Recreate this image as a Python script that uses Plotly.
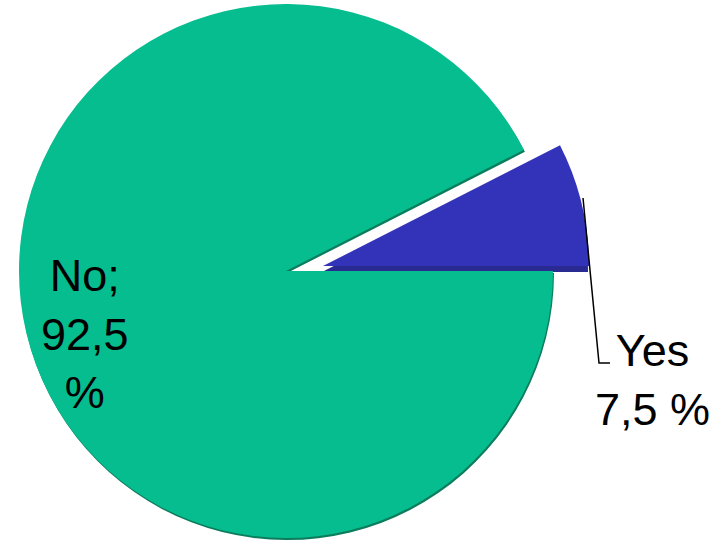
import plotly.graph_objects as go

# Data
labels = ["No", "Yes"]
values = [92.5, 7.5]
label_texts = ["No;<br>92,5<br>%", "Yes<br>7,5 %"]

W, H = 716, 542
GREEN = "#05BD8E"
GREEN_DARK = "#0B7C5C"
BLUE = "#3333B9"
BLUE_DARK = "#2A2A93"
CLEAR = "rgba(0,0,0,0)"


def clamp(v):
    return min(1.0, max(0.0, v))


def dom(cx, cy, r):
    """pixel center/radius -> paper domain"""
    return dict(x=[clamp((cx - r) / W), clamp((cx + r) / W)],
                y=[clamp((H - cy - r) / H), clamp((H - cy + r) / H)])


def pie(colors, d):
    return go.Pie(labels=labels, values=values, sort=False,
                  direction="clockwise", rotation=90,
                  marker=dict(colors=colors, line=dict(width=0)),
                  textinfo="none", hoverinfo="skip", showlegend=False,
                  domain=d)


fig = go.Figure()
# shadow / depth layers
fig.add_trace(pie([GREEN_DARK, CLEAR], dom(287, 273, 267)))
fig.add_trace(pie([CLEAR, BLUE_DARK], dom(322, 272, 266)))
# main slices
fig.add_trace(pie([GREEN, CLEAR], dom(286, 271, 267)))
fig.add_trace(pie([CLEAR, BLUE], dom(323, 266, 266)))

font = dict(family="Liberation Sans, Arial, sans-serif", size=45, color="black")
fig.add_annotation(x=85 / W, y=1 - 334 / H, xref="paper", yref="paper",
                   text=label_texts[0], showarrow=False, font=font,
                   xanchor="center", yanchor="middle", align="center")
fig.add_annotation(x=652 / W, y=1 - 380 / H, xref="paper", yref="paper",
                   text=label_texts[1], showarrow=False, font=font,
                   xanchor="center", yanchor="middle", align="center")

# leader line
pts = [(583, 198), (599, 363), (610, 363)]
path = "M " + " L ".join(f"{x / W} {1 - y / H}" for x, y in pts)
fig.add_shape(type="path", path=path, xref="paper", yref="paper",
              line=dict(color="black", width=1.5))

fig.update_layout(width=W, height=H, margin=dict(l=0, r=0, t=0, b=0),
                  paper_bgcolor="white", plot_bgcolor="white")
fig.write_html("out.html", config={"displayModeBar": False},
               post_script="document.body.style.margin='0';"
                           "document.body.style.overflow='hidden';")
